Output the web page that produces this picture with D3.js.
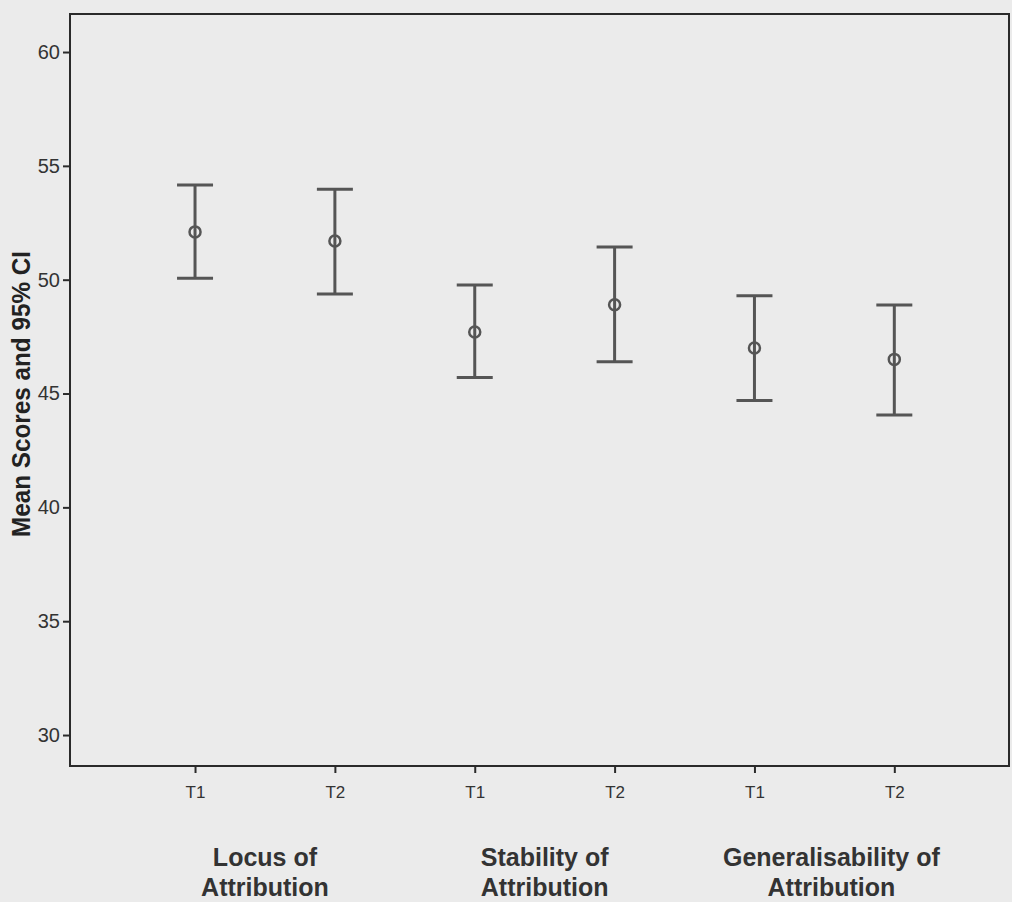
<!DOCTYPE html>
<html><head><meta charset="utf-8">
<script src="https://cdn.jsdelivr.net/npm/d3@7"></script>
<style>
html,body{margin:0;padding:0;background:#ebebeb;}
svg{display:block;}
</style></head>
<body>
<script>
// ---- data ----
const groups = ["Locus of|Attribution", "Stability of|Attribution", "Generalisability of|Attribution"];
const times = ["T1", "T2"];
const means = [52.1, 51.7, 47.7, 48.9, 47.0, 46.5];
const lower = [50.06, 49.37, 45.70, 46.40, 44.69, 44.06];
const upper = [54.16, 53.97, 49.77, 51.44, 49.30, 48.89];
const yTicks = [30, 35, 40, 45, 50, 55, 60];
const yLabel = "Mean Scores and 95% CI";

const W = 1012, H = 902;
const L = 70, R = 1009, T = 14, B = 766;
const FONT = "Arial, 'Liberation Sans', sans-serif";

const svg = d3.select("body").append("svg").attr("width", W).attr("height", H);
svg.append("rect").attr("width", W).attr("height", H).attr("fill", "#ebebeb");

const y = d3.scaleLinear().domain([28.64, 61.67]).range([B, T]);
const x = d3.scaleLinear().domain([-0.894, 5.82]).range([L, R]);

const items = means.map((m, i) => ({i, m, lo: lower[i], hi: upper[i], t: times[i % 2]}));

// frame
svg.append("rect").attr("x", L).attr("y", T).attr("width", R - L).attr("height", B - T)
  .attr("fill", "none").attr("stroke", "#2a2a2a").attr("stroke-width", 2);

// y axis
const yAxis = d3.axisLeft(y).tickValues(yTicks).tickSize(7).tickPadding(3);
const gy = svg.append("g").attr("transform", `translate(${L},0)`).call(yAxis);
gy.select(".domain").remove();
gy.selectAll("line").attr("stroke", "#2a2a2a").attr("stroke-width", 2);
gy.selectAll("text").attr("font-family", FONT).style("font-size", "20px").attr("fill", "#333");

// x axis
const xAxis = d3.axisBottom(x).tickValues(d3.range(6)).tickFormat(i => times[i % 2]).tickSize(7);
const gx = svg.append("g").attr("transform", `translate(0,${B})`).call(xAxis);
gx.select(".domain").remove();
gx.selectAll("line").attr("stroke", "#2a2a2a").attr("stroke-width", 2);
gx.selectAll("text").attr("font-family", FONT).style("font-size", "17px").attr("fill", "#333")
  .attr("y", 32).attr("dy", null);

// group labels
groups.forEach((g, k) => {
  const cx = (x(2 * k) + x(2 * k + 1)) / 2 + (k === 2 ? 7 : 0);
  const lines = g.split("|");
  const t = svg.append("text").attr("text-anchor", "middle")
    .attr("font-family", FONT)
    .attr("font-weight", "bold").style("font-size", "25px").attr("fill", "#333");
  lines.forEach((ln, j) => t.append("tspan").attr("x", cx).attr("y", 866 + j * 30).text(ln));
});

// y label
svg.append("text").attr("transform", `translate(30,394) rotate(-90)`)
  .attr("text-anchor", "middle")
  .attr("font-family", FONT)
  .attr("font-weight", "bold").style("font-size", "26px").attr("fill", "#222")
  .attr("textLength", 286).attr("lengthAdjust", "spacingAndGlyphs")
  .text(yLabel);

// error bars
const col = "#555";
const bars = svg.append("g").selectAll("g").data(items).join("g");
bars.append("line").attr("x1", d => x(d.i)).attr("x2", d => x(d.i))
  .attr("y1", d => y(d.lo)).attr("y2", d => y(d.hi)).attr("stroke", col).attr("stroke-width", 3);
bars.append("line").attr("x1", d => x(d.i) - 18).attr("x2", d => x(d.i) + 18)
  .attr("y1", d => y(d.hi)).attr("y2", d => y(d.hi)).attr("stroke", col).attr("stroke-width", 3);
bars.append("line").attr("x1", d => x(d.i) - 18).attr("x2", d => x(d.i) + 18)
  .attr("y1", d => y(d.lo)).attr("y2", d => y(d.lo)).attr("stroke", col).attr("stroke-width", 3);
bars.append("circle").attr("cx", d => x(d.i)).attr("cy", d => y(d.m)).attr("r", 5.5)
  .attr("fill", "none").attr("stroke", col).attr("stroke-width", 2.5);
</script>
</body></html>
